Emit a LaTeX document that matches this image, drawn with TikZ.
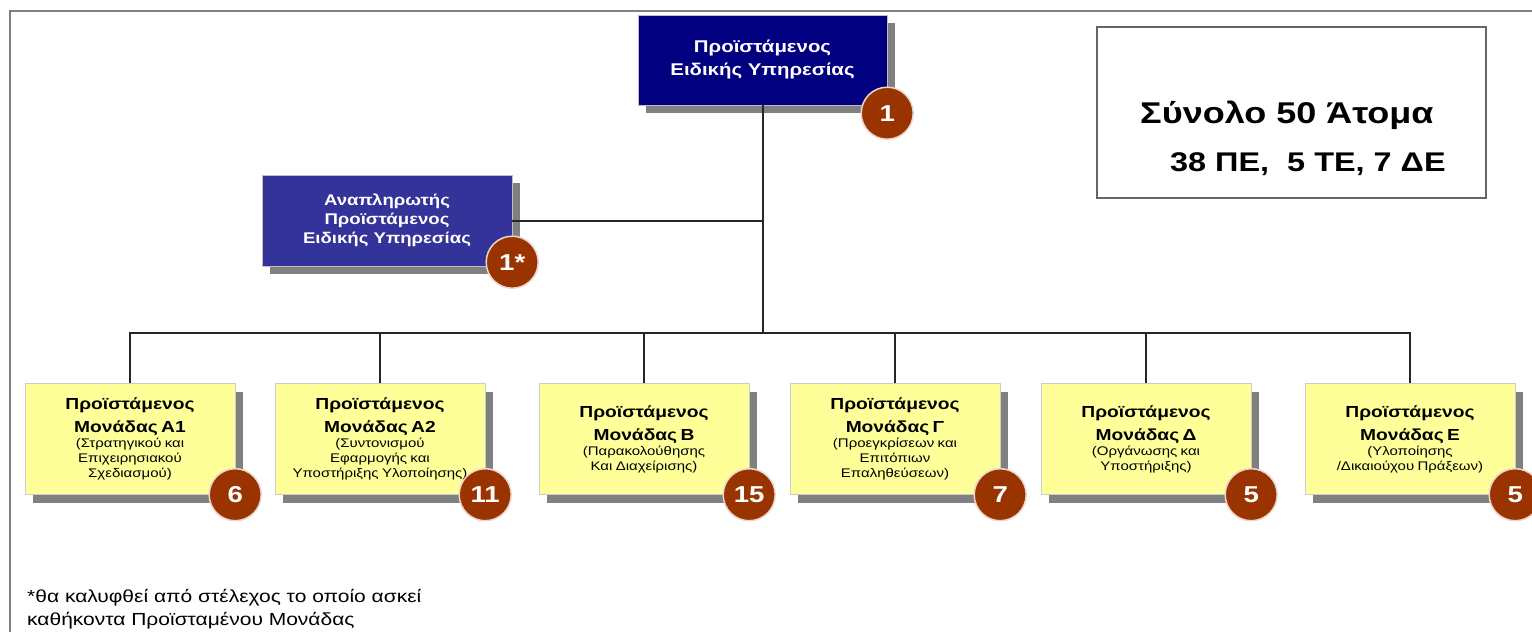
\documentclass[tikz,border=0pt]{standalone}
\usepackage{fontspec}
\setmainfont{Liberation Sans}[FakeStretch=1.2]
\usepackage{tikz}
\usetikzlibrary{shadows}
\definecolor{navyhead}{RGB}{0,0,128}
\definecolor{deputyblue}{RGB}{51,51,153}
\definecolor{unityellow}{RGB}{255,255,153}
\definecolor{badgered}{RGB}{153,51,0}
\newcommand{\unittitle}{\fontsize{16}{23}\selectfont\bfseries}
\newcommand{\unitsub}{\fontsize{12.5}{15}\selectfont\mdseries}

\begin{document}
\begin{tikzpicture}[x=1pt, y=-1pt,
    boxshadow/.style={drop shadow={shadow xshift=8pt, shadow yshift=-8pt, fill=gray, opacity=1}},
    headbox/.style={boxshadow, draw=gray!50, text=white, align=center, inner sep=0pt},
    unitbox/.style={boxshadow, fill=unityellow, draw=gray!40, text width=205pt, align=center,
        inner sep=0pt, minimum width=210pt, minimum height=111pt},
    badge/.style={circle, fill=badgered, draw=white!80!badgered, line width=1.5pt, text=white,
        font=\fontsize{23}{23}\selectfont\bfseries, minimum size=52pt, inner sep=0pt},
    link/.style={line width=2pt, black!85}]
  \useasboundingbox (0,0) rectangle (1532,632);
  % frame
  \draw[gray, line width=2pt] (10,632) -- (10,11) -- (1532,11);

  % head and deputy
  \node[headbox, fill=navyhead, minimum width=249pt, minimum height=90pt,
        font=\fontsize{17}{23}\selectfont\bfseries] (head) at (762.5,60)
        {Προϊστάμενος\\Ειδικής Υπηρεσίας};
  \node[headbox, fill=deputyblue, minimum width=250pt, minimum height=91pt,
        font=\fontsize{15.5}{19}\selectfont\bfseries] (deputy) at (387,220.5)
        {Αναπληρωτής\\Προϊστάμενος\\Ειδικής Υπηρεσίας};

  % units
  \node[unitbox] (a1) at (130,439) {{\unittitle Προϊστάμενος\\Μονάδας Α1\par}
    {\unitsub (Στρατηγικού και\\Επιχειρησιακού\\Σχεδιασμού)\par}};
  \node[unitbox] (a2) at (380,439) {{\unittitle Προϊστάμενος\\Μονάδας Α2\par}
    {\unitsub (Συντονισμού\\Εφαρμογής και\\Υποστήριξης Υλοποίησης)\par}};
  \node[unitbox] (b) at (644,439) {{\unittitle Προϊστάμενος\\Μονάδας Β\par}
    {\unitsub (Παρακολούθησης\\Και Διαχείρισης)\par}};
  \node[unitbox] (g) at (895,439) {{\unittitle Προϊστάμενος\\Μονάδας Γ\par}
    {\unitsub (Προεγκρίσεων και\\Επιτόπιων\\Επαληθεύσεων)\par}};
  \node[unitbox] (d) at (1146,439) {{\unittitle Προϊστάμενος\\Μονάδας Δ\par}
    {\unitsub (Οργάνωσης και\\Υποστήριξης)\par}};
  \node[unitbox] (e) at (1410,439) {{\unittitle Προϊστάμενος\\Μονάδας Ε\par}
    {\unitsub (Υλοποίησης\\/Δικαιούχου Πράξεων)\par}};

  % connectors
  \coordinate (hub) at (762.5,333);
  \draw[link] (head.south) -- (hub);
  \draw[link] (deputy.east) -- (deputy.east -| hub);
  \draw[link] (a1.north) |- (hub) -| (e.north);
  \draw[link] (a2.north) -- (a2.north |- hub);
  \draw[link] (b.north) -- (b.north |- hub);
  \draw[link] (g.north) -- (g.north |- hub);
  \draw[link] (d.north) -- (d.north |- hub);

  % staff numbers
  \node[badge] (nhead) at ([shift={(0,8)}]head.south east) {1};
  \node[badge] (ndeputy) at ([shift={(0,-4)}]deputy.south east) {1*};
  \node[badge] (na1) at (a1.south east) {6};
  \node[badge] (na2) at (a2.south east) {11};
  \node[badge] (nb) at (b.south east) {15};
  \node[badge] (ng) at (g.south east) {7};
  \node[badge] (nd) at (d.south east) {5};
  \node[badge] (ne) at (e.south east) {5};

  % total
  \node[draw=gray!80!black, line width=1.2pt, minimum width=389pt, minimum height=171pt] (total) at (1291.5,112.5) {};
  \node[font=\fontsize{30}{48}\selectfont\bfseries, align=left, anchor=north west, inner sep=0pt] (totaltext) at (1140,101)
    {Σύνολο 50 Άτομα\\\hspace*{30pt}{\fontsize{27}{48}\selectfont 38 ΠΕ, \ 5 ΤΕ, 7 ΔΕ}};

  % note
  \node[font=\fontsize{17.5}{23}\selectfont, align=left, anchor=north west, inner sep=0pt] (note) at (27,589)
    {*θα καλυφθεί από στέλεχος το οποίο ασκεί\\καθήκοντα Προϊσταμένου Μονάδας};
\end{tikzpicture}
\end{document}
